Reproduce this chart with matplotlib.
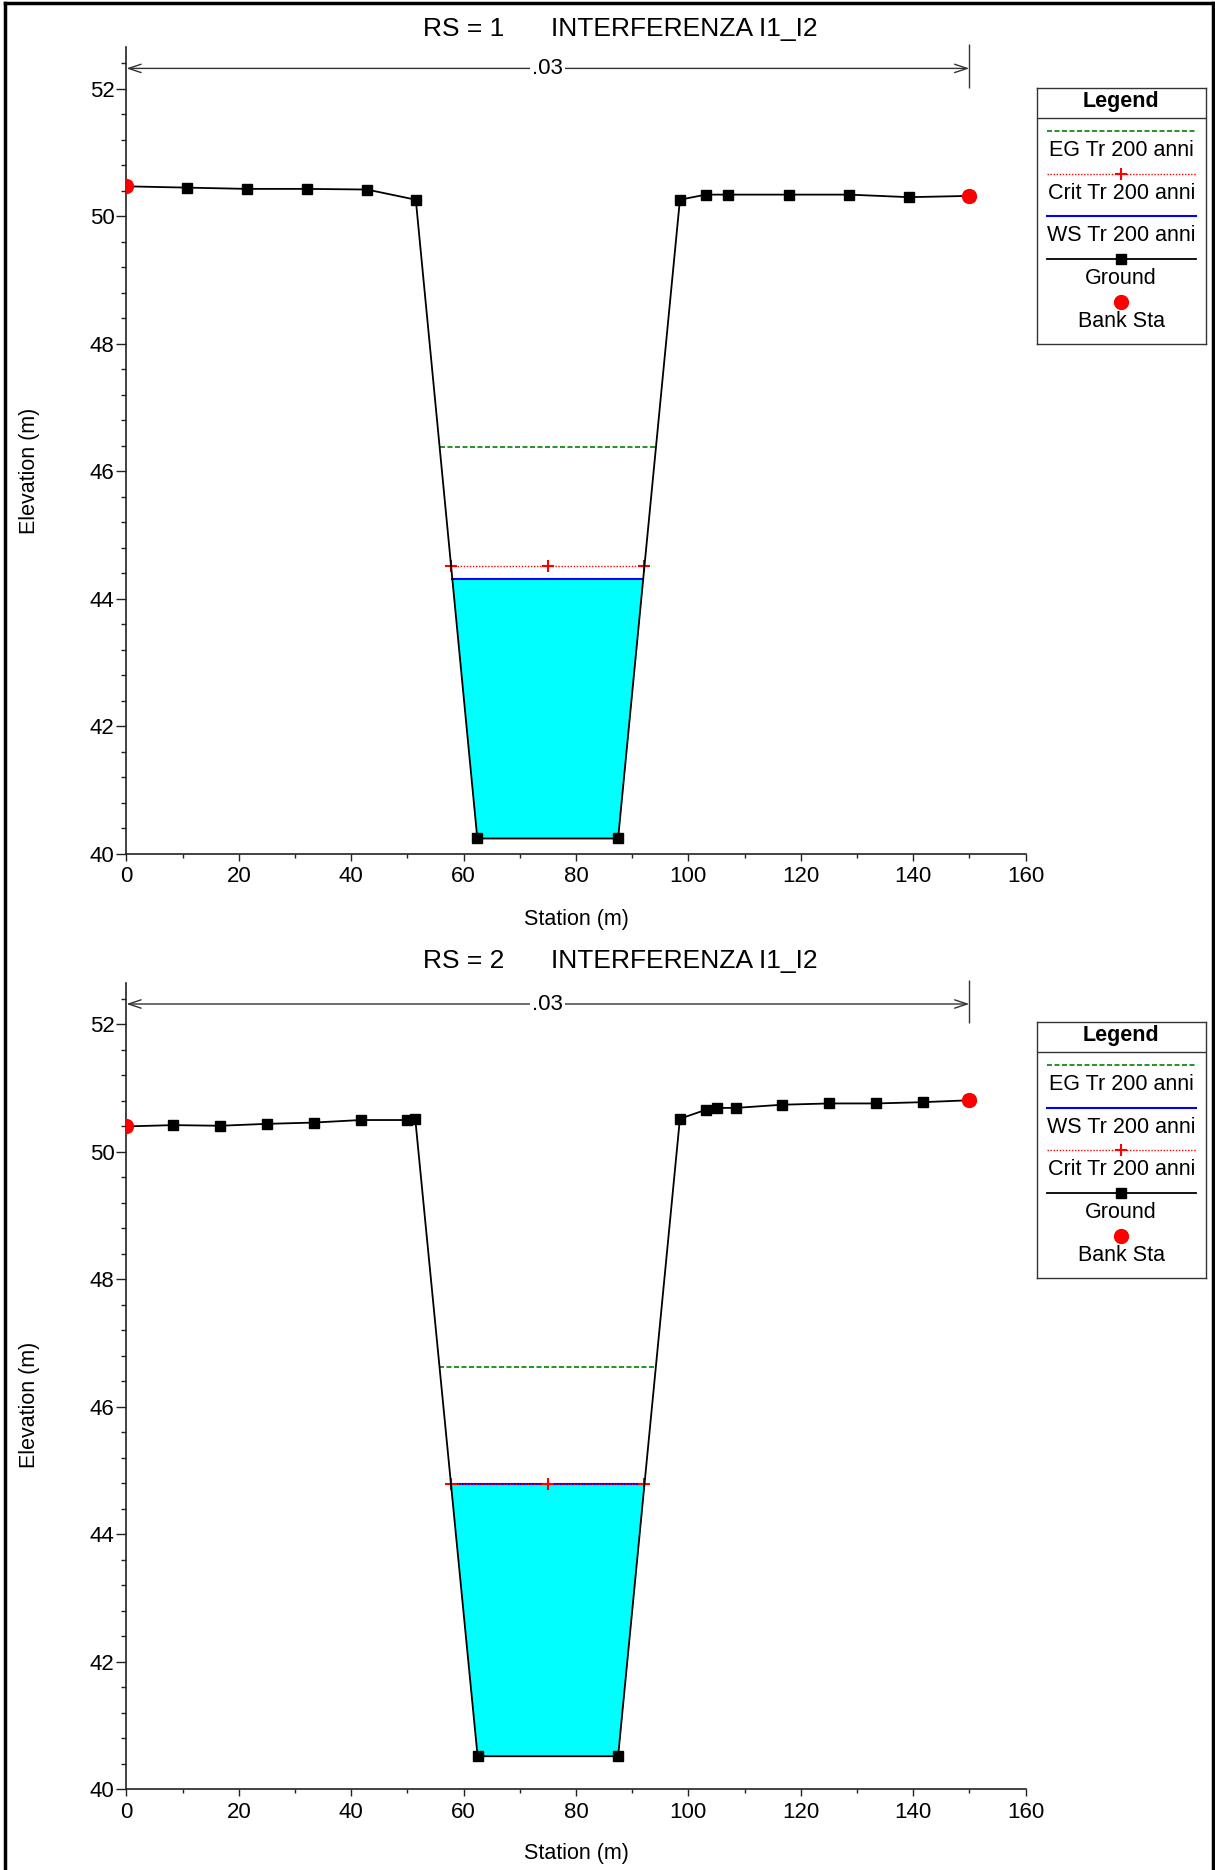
import numpy as np
import matplotlib
matplotlib.use("Agg")
import matplotlib.pyplot as plt
from matplotlib.lines import Line2D
from matplotlib.ticker import MultipleLocator

plt.rcParams['font.family'] = ['Liberation Sans', 'DejaVu Sans']

# ---------------- data ----------------
rs_labels = ["RS = 1", "RS = 2"]
reach_title = "INTERFERENZA I1_I2"

sta_rs1 = [0.0, 10.7, 21.4, 32.1, 42.8, 51.5, 62.45, 87.5, 98.5, 103.1, 107.1, 117.9, 128.6, 139.3, 150.0]
elev_rs1 = [50.47, 50.45, 50.43, 50.43, 50.42, 50.26, 40.24, 40.24, 50.26, 50.34, 50.34, 50.34, 50.34, 50.30, 50.32]

sta_rs2 = [0.0, 8.35, 16.7, 25.0, 33.3, 41.7, 50.0, 51.4, 62.5, 87.5, 98.5, 103.1, 105.1, 108.4,
           116.7, 125.1, 133.4, 141.7, 150.0]
elev_rs2 = [50.40, 50.42, 50.41, 50.44, 50.46, 50.50, 50.50, 50.52, 40.52, 40.52, 50.52, 50.66, 50.69, 50.69,
            50.74, 50.76, 50.76, 50.78, 50.81]

bank_sta_rs1 = [0.0, 150.0]
bank_sta_rs2 = [0.0, 150.0]

eg_levels = [46.38, 46.63]
crit_levels = [44.52, 44.79]
ws_levels = [44.31, 44.79]

mann_n = ".03"
mann_range = [0.0, 150.0]
mann_y = 52.32

legend_orders = [["EG", "Crit", "WS", "Ground", "Bank"],
                 ["EG", "WS", "Crit", "Ground", "Bank"]]
legend_names = {"EG": "EG Tr 200 anni", "Crit": "Crit Tr 200 anni",
                "WS": "WS Tr 200 anni", "Ground": "Ground", "Bank": "Bank Sta"}

# ---------------- styles ----------------
W, H = 1215, 1870
FS_TICK = 16
FS_LAB = 15.5
FS_LEG = 15.5
FS_TITLE = 19
AX_COL = '#222222'
EG_KW = dict(color='#008000', lw=1.2, ls=(0, (3.0, 1.5)))
CRIT_KW = dict(color='#ff0000', lw=1.0, ls=(0, (1.0, 1.2)))
WS_KW = dict(color='#0000ff', lw=1.5, ls='-')
GR_KW = dict(color='black', lw=1.3, marker='s', ms=6.5, mfc='black', mec='black')
BANK_KW = dict(color='red', marker='o', ms=10, ls='none')


def crossings(x, y, level):
    x = np.asarray(x, float)
    y = np.asarray(y, float) - level
    out = []
    for i in range(len(x) - 1):
        if y[i] * y[i + 1] < 0:
            t = y[i] / (y[i] - y[i + 1])
            out.append(x[i] + t * (x[i + 1] - x[i]))
    return min(out), max(out)


fig = plt.figure(figsize=(W / 100, H / 100), dpi=100)

# figure border (left, top, right)
for xs, ys in [([5 / W, 5 / W], [0, 1 - 3 / H]), ([5 / W, 1 - 2 / W], [1 - 3 / H, 1 - 3 / H]),
               ([1 - 2 / W, 1 - 2 / W], [1 - 3 / H, 0])]:
    fig.add_artist(Line2D(xs, ys, transform=fig.transFigure, color='black', lw=2.5))

panels = [
    dict(sta=sta_rs1, elev=elev_rs1, bank=bank_sta_rs1, eg=eg_levels[0], crit=crit_levels[0], ws=ws_levels[0],
         ax_bottom=853.8, title_y=29, lab_x_y=919, lab_y_y=471, leg_top=88.3),
    dict(sta=sta_rs2, elev=elev_rs2, bank=bank_sta_rs2, eg=eg_levels[1], crit=crit_levels[1], ws=ws_levels[1],
         ax_bottom=1789.4, title_y=961, lab_x_y=1853, lab_y_y=1405, leg_top=1022.3),
]

YMIN, YMAX = 40.0, 52.65
PX_PER_M = 63.75
ax_left, ax_right = 126.4, 1025.5

for k, p in enumerate(panels):
    ax_h = (YMAX - YMIN) * PX_PER_M
    ax = fig.add_axes([ax_left / W, 1 - p['ax_bottom'] / H, (ax_right - ax_left) / W, ax_h / H])
    ax.set_xlim(0, 160)
    ax.set_ylim(YMIN, YMAX)
    for s in ['top', 'right']:
        ax.spines[s].set_visible(False)
    for s in ['left', 'bottom']:
        ax.spines[s].set_color(AX_COL)
        ax.spines[s].set_linewidth(1.2)
    ax.xaxis.set_major_locator(MultipleLocator(20))
    ax.xaxis.set_minor_locator(MultipleLocator(10))
    ax.yaxis.set_major_locator(MultipleLocator(2))
    ax.yaxis.set_minor_locator(MultipleLocator(0.4))
    ax.tick_params(axis='y', which='major', length=7, width=1, color=AX_COL, labelsize=FS_TICK, pad=1.5)
    ax.tick_params(axis='y', which='minor', length=3.5, width=1, color=AX_COL)
    ax.tick_params(axis='x', which='major', length=5, width=1, color=AX_COL, labelsize=FS_TICK, pad=4)
    ax.tick_params(axis='x', which='minor', length=3, width=1, color=AX_COL)
    ax.set_yticks(np.arange(40, 53, 2))
    ax.set_yticklabels([f"{v:d}" for v in range(40, 53, 2)])

    sta = np.asarray(p['sta'], float)
    elev = np.asarray(p['elev'], float)

    # water fill
    ax.fill_between(sta, elev, p['ws'], where=elev < p['ws'], interpolate=True,
                    color='#00ffff', lw=0, zorder=1)

    xl_eg, xr_eg = crossings(sta, elev, p['eg'])
    xl_cr, xr_cr = crossings(sta, elev, p['crit'])
    xl_ws, xr_ws = crossings(sta, elev, p['ws'])

    ax.plot([xl_eg, xr_eg], [p['eg'], p['eg']], zorder=3, **EG_KW)
    ax.plot([xl_ws, xr_ws], [p['ws'], p['ws']], zorder=3, **WS_KW)
    ax.plot([xl_cr, xr_cr], [p['crit'], p['crit']], zorder=4, **CRIT_KW)
    ax.plot([xl_cr, (xl_cr + xr_cr) / 2, xr_cr], [p['crit']] * 3, ls='none', marker='+',
            ms=9, mew=1.5, color='red', zorder=4)

    ax.plot(sta, elev, zorder=5, **GR_KW)
    bank_sta = np.asarray(p['bank'], float)
    ax.plot(bank_sta, np.interp(bank_sta, sta, elev), zorder=6, **BANK_KW)

    # Manning's n annotation
    ax.annotate('', xy=(mann_range[0], mann_y), xytext=(mann_range[1], mann_y),
                arrowprops=dict(arrowstyle='<->,head_length=0.9,head_width=0.3', color='#333333', lw=1.0,
                                shrinkA=0, shrinkB=0), annotation_clip=False)
    ax.text((mann_range[0] + mann_range[1]) / 2, mann_y, mann_n, ha='center', va='center',
            fontsize=FS_TICK, bbox=dict(facecolor='white', edgecolor='none', pad=1.5), zorder=7)
    ax.vlines(mann_range[1], 52.02, YMAX + 0.05, color='#333333', lw=1.0, clip_on=False)

    # titles & labels
    fig.text(423 / W, 1 - p['title_y'] / H, rs_labels[k], ha='left', va='center', fontsize=FS_TITLE)
    fig.text(551 / W, 1 - p['title_y'] / H, reach_title, ha='left', va='center', fontsize=FS_TITLE)
    fig.text((ax_left + ax_right) / 2 / W, 1 - p['lab_x_y'] / H, "Station (m)",
             ha='center', va='center', fontsize=FS_LAB)
    fig.text(30 / W, 1 - p['lab_y_y'] / H, "Elevation (m)", ha='center', va='center',
             rotation=90, fontsize=FS_LAB)

    # legend box
    lg_h = 256.0
    lax = fig.add_axes([1036.7 / W, 1 - (p['leg_top'] + lg_h) / H, 169 / W, lg_h / H])
    lax.set_xlim(0, 169)
    lax.set_ylim(lg_h, 0)
    lax.set_xticks([])
    lax.set_yticks([])
    for s in lax.spines.values():
        s.set_color('#333333')
        s.set_linewidth(1.0)
    lax.text(84.5, 13.4, "Legend", ha='center', va='center', fontsize=FS_LEG, fontweight='bold')
    lax.plot([0, 169], [29.4, 29.4], color='#333333', lw=1.0)
    for i, key in enumerate(legend_orders[k]):
        yl = 42.7 + 42.65 * i
        if key == "EG":
            lax.plot([10, 159], [yl, yl], **EG_KW)
        elif key == "Crit":
            lax.plot([10, 159], [yl, yl], **CRIT_KW)
            lax.plot([84.5], [yl], marker='+', ms=9, mew=1.5, color='red')
        elif key == "WS":
            lax.plot([10, 159], [yl, yl], **WS_KW)
        elif key == "Ground":
            lax.plot([10, 159], [yl, yl], color='black', lw=1.3)
            lax.plot([84.5], [yl], marker='s', ms=6.5, color='black')
        elif key == "Bank":
            lax.plot([84.5], [yl], **BANK_KW)
        lax.text(84.5, yl + 19.5, legend_names[key], ha='center', va='center', fontsize=FS_LEG)

fig.savefig("out.png", dpi=100)
